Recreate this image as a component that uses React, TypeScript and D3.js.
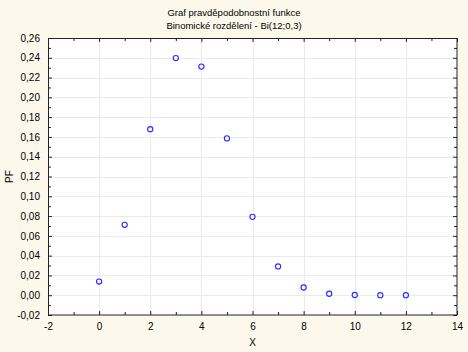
import { axisBottom, axisLeft, axisRight, axisTop, range, scaleLinear, select } from "d3";
import { useEffect, useRef } from "react";

const kValues = [0, 1, 2, 3, 4, 5, 6, 7, 8, 9, 10, 11, 12];
const pfValues = [
  0.0138, 0.0712, 0.1678, 0.2397, 0.2311, 0.1585, 0.0792, 0.0291, 0.0078, 0.0015, 0.0002, 0.0000,
  0.0000,
];
const xMajorTicks = [-2, 0, 2, 4, 6, 8, 10, 12, 14];
const yMajorTicks = [-0.02, 0, 0.02, 0.04, 0.06, 0.08, 0.1, 0.12, 0.14, 0.16, 0.18, 0.2, 0.22, 0.24, 0.26];
const titleLines = ["Graf pravděpodobnostní funkce", "Binomické rozdělení - Bi(12;0,3)"];

const W = 468;
const H = 352;

export default function App() {
  const svgRef = useRef<SVGSVGElement | null>(null);

  useEffect(() => {
    if (!svgRef.current) return;
    const svg = select(svgRef.current);
    svg.selectAll("*").remove();

    const margin = { top: 38, right: 11, bottom: 37, left: 48 };
    const innerWidth = W - margin.left - margin.right;
    const innerHeight = H - margin.top - margin.bottom;

    const x = scaleLinear().domain([-2, 14]).range([0, innerWidth]);
    const y = scaleLinear().domain([-0.02, 0.26]).range([innerHeight, 0]);
    const fmt = (v: number) => v.toFixed(2).replace(".", ",").replace("-0,00", "0,00");

    svg.append("rect").attr("width", W).attr("height", H).attr("fill", "#fdf8ec");

    const chart = svg.append("g").attr("transform", `translate(${margin.left},${margin.top})`);
    chart
      .append("rect")
      .attr("width", innerWidth)
      .attr("height", innerHeight)
      .attr("fill", "#ffffff");

    // grid
    chart
      .append("g")
      .selectAll("line.gx")
      .data(xMajorTicks.slice(1, -1))
      .join("line")
      .attr("x1", (d) => Math.round(x(d)) + 0.5)
      .attr("x2", (d) => Math.round(x(d)) + 0.5)
      .attr("y1", 0)
      .attr("y2", innerHeight)
      .attr("stroke", "#ebebeb");
    chart
      .append("g")
      .selectAll("line.gy")
      .data(yMajorTicks.slice(1, -1))
      .join("line")
      .attr("y1", (d) => Math.round(y(d)) + 0.5)
      .attr("y2", (d) => Math.round(y(d)) + 0.5)
      .attr("x1", 0)
      .attr("x2", innerWidth)
      .attr("stroke", "#ebebeb");

    const style = (g: any) => {
      g.select(".domain").remove();
      g.selectAll("line").attr("stroke", "#222");
      g.selectAll("text")
        .attr("font-family", "Liberation Sans, Arial, sans-serif")
        .attr("font-size", 10)
        .attr("fill", "#000");
    };

    const xMinor = range(-1, 14, 2);
    const yMinor = range(-0.01, 0.26, 0.02);

    chart
      .append("g")
      .attr("transform", `translate(0,${innerHeight})`)
      .call(axisBottom(x).tickValues(xMajorTicks).tickSize(-4).tickPadding(8).tickFormat((d) => `${d}`))
      .call(style);
    chart
      .append("g")
      .attr("transform", `translate(0,${innerHeight})`)
      .call(axisBottom(x).tickValues(xMinor).tickSize(-3).tickFormat(() => ""))
      .call(style);
    chart
      .append("g")
      .call(axisTop(x).tickValues(xMajorTicks).tickSize(-4).tickFormat(() => ""))
      .call(style);
    chart
      .append("g")
      .call(axisTop(x).tickValues(xMinor).tickSize(-3).tickFormat(() => ""))
      .call(style);

    chart
      .append("g")
      .call(axisLeft(y).tickValues(yMajorTicks).tickSize(-4).tickPadding(8).tickFormat((d) => fmt(+d)))
      .call(style);
    chart
      .append("g")
      .call(axisLeft(y).tickValues(yMinor).tickSize(-3).tickFormat(() => ""))
      .call(style);
    chart
      .append("g")
      .attr("transform", `translate(${innerWidth},0)`)
      .call(axisRight(y).tickValues(yMajorTicks).tickSize(-4).tickFormat(() => ""))
      .call(style);
    chart
      .append("g")
      .attr("transform", `translate(${innerWidth},0)`)
      .call(axisRight(y).tickValues(yMinor).tickSize(-3).tickFormat(() => ""))
      .call(style);

    chart
      .append("rect")
      .attr("x", 0.5)
      .attr("y", 0.5)
      .attr("width", innerWidth - 0.5)
      .attr("height", innerHeight - 0.5)
      .attr("fill", "none")
      .attr("stroke", "#222");

    // points
    chart
      .append("g")
      .selectAll("circle")
      .data(kValues.map((k, i) => ({ k, p: pfValues[i] })))
      .join("circle")
      .attr("cx", (d) => x(d.k))
      .attr("cy", (d) => y(d.p))
      .attr("r", 2.6)
      .attr("fill", "none")
      .attr("stroke", "#2a2aff")
      .attr("stroke-width", 1.1);

    // titles
    titleLines.forEach((line, i) => {
      svg
        .append("text")
        .attr("x", 234)
        .attr("y", 16 + i * 12.5)
        .attr("text-anchor", "middle")
        .attr("font-family", "Liberation Sans, Arial, sans-serif")
        .attr("font-size", 9.5)
        .attr("fill", "#000")
        .text(line);
    });

    svg
      .append("text")
      .attr("x", margin.left + innerWidth / 2)
      .attr("y", 346)
      .attr("text-anchor", "middle")
      .attr("font-family", "Liberation Sans, Arial, sans-serif")
      .attr("font-size", 10)
      .text("X");

    svg
      .append("text")
      .attr("transform", `translate(13,${margin.top + innerHeight / 2}) rotate(-90)`)
      .attr("text-anchor", "middle")
      .attr("font-family", "Liberation Sans, Arial, sans-serif")
      .attr("font-size", 10)
      .text("PF");
  }, []);

  return (
    <svg
      ref={svgRef}
      width={W}
      height={H}
      style={{ position: "absolute", left: 0, top: 0, display: "block" }}
    />
  );
}
